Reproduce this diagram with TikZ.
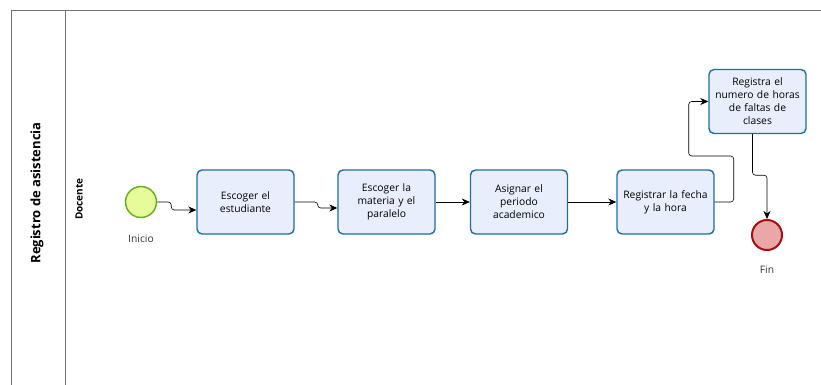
\documentclass[tikz,border=0pt]{standalone}
\usepackage{fontspec}
\setmainfont{Open Sans}
\usepackage{tikz}
\usetikzlibrary{arrows.meta, positioning, calc}

\definecolor{taskfill}{HTML}{E8EEFB}
\definecolor{taskline}{HTML}{1F6E9E}
\definecolor{startfill}{HTML}{E6FC9A}
\definecolor{startline}{HTML}{6AAE22}
\definecolor{endfill}{HTML}{EBA7A7}
\definecolor{endline}{HTML}{A40F0F}

\begin{document}
\begin{tikzpicture}[x=1pt, y=-1pt,
      task/.style={draw=taskline, fill=taskfill, line width=1.4pt, rounded corners=5pt, minimum width=97pt, minimum height=64pt, align=center, font=\fontsize{10.3}{13}\selectfont, inner sep=2pt, text width=93pt},
      startev/.style={circle, draw=startline, fill=startfill, line width=1.5pt, minimum size=31pt, inner sep=0pt},
      endev/.style={circle, draw=endline, fill=endfill, line width=2pt, minimum size=30pt, inner sep=0pt},
      evlabel/.style={font=\fontsize{10.3}{12}\selectfont, text=black!80},
      flow/.style={draw=black, line width=0.6pt, rounded corners=3pt, -{Stealth[length=8pt, width=7pt]}},
      pool/.style={draw=black!55, line width=0.8pt}
    ]
      \useasboundingbox (0,0) rectangle (821,385);

      % Pool and lane
      \draw[pool] (821,10) -- (11,10) -- (11,385);
      \draw[pool] (65,10) -- (65,385);
      \node[rotate=90, font=\fontsize{13}{15}\selectfont\bfseries] (pooltitle) at (37,193) {Registro de asistencia};
      \node[rotate=90, font=\fontsize{10}{12}\selectfont\bfseries] (lanetitle) at (79,199) {Docente};

      % Events
      \node[startev] (inicio) at (141,202) {};
      \node[evlabel] (inicioLbl) at (141,239) {Inicio};
      \node[endev] (fin) at (767,235) {};
      \node[evlabel] (finLbl) at (767,270) {Fin};

      % Tasks
      \node[task] (estudiante) at (245.5,202) {Escoger el\\estudiante};
      \node[task] (materia) at (386.5,202) {Escoger la\\materia y el\\paralelo};
      \node[task] (periodo) at (519,202) {Asignar el\\periodo\\academico};
      \node[task] (fecha) at (665.5,202) {Registrar la fecha\\y la hora};
      \node[task] (horas) at (757.5,101.5) {Registra el\\numero de horas\\de faltas de\\clases};

      % Sequence flows
      \draw[flow] (inicio.east) -- ++(14,0) |- ([yshift=-8pt]estudiante.west);
      \draw[flow] (estudiante.east) -- ++(23,0) |- ([yshift=-6pt]materia.west);
      \draw[flow] (materia.east) -- (periodo.west);
      \draw[flow] (periodo.east) -- (fecha.west);
      \draw[flow] (fecha.east) -- ++(19,0) -- ++(0,-46) -- ++(-45,0) |- (horas.west);
      \draw[flow] ([xshift=-5pt]horas.south) -- ++(0,41) -| (fin.north);
    \end{tikzpicture}
\end{document}
